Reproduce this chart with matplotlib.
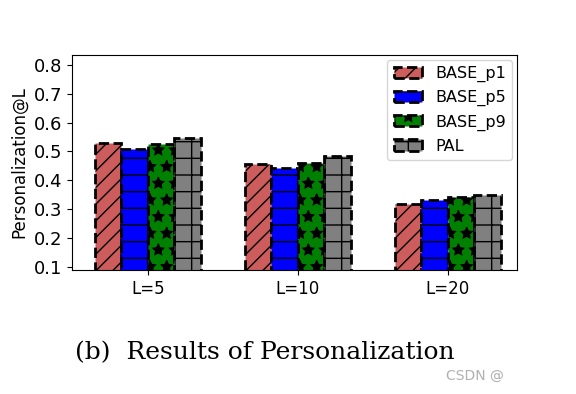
import matplotlib
matplotlib.use("Agg")
import matplotlib.pyplot as plt
import numpy as np

plt.rcParams['hatch.linewidth'] = 1.0

groups = ["L=5", "L=10", "L=20"]
series = ["BASE_p1", "BASE_p5", "BASE_p9", "PAL"]
base_p1 = [0.528, 0.456, 0.318]
base_p5 = [0.507, 0.443, 0.331]
base_p9 = [0.525, 0.460, 0.343]
pal = [0.548, 0.484, 0.348]
values = [base_p1, base_p5, base_p9, pal]
colors = ["#CD5C5C", "#0000FF", "#008000", "#808080"]
hatches = ["//", "-", "*", "+"]
yticks = [0.1, 0.2, 0.3, 0.4, 0.5, 0.6, 0.7, 0.8]

fig = plt.figure(figsize=(5.76, 3.94), dpi=100)
ax = fig.add_axes([0.125, 0.3147, 0.773, 0.5463])

x = np.arange(len(groups))
w = 0.177
for i, (name, vals) in enumerate(zip(series, values)):
    ax.bar(x + (i - 1.5) * w, vals, width=w, color=colors[i], hatch=hatches[i],
           edgecolor="black", linestyle="--", linewidth=2, label=name)

ax.set_ylim(0.0886, 0.835)
ax.set_xlim(-0.505, 2.464)
ax.set_yticks(yticks)
ax.set_yticklabels([f"{v:.1f}" for v in yticks], fontsize=13)
ax.set_xticks(x)
ax.set_xticklabels(groups, fontsize=12)
ax.set_ylabel("Personalization@L", fontsize=12)
ax.legend(loc="upper right", fontsize=11.5, handlelength=1.8, borderaxespad=0.3)

fig.text(0.13, 0.105, "(b)  Results of Personalization", fontsize=18,
         family="DejaVu Serif", ha="left", va="center")
fig.text(0.775, 0.045, "CSDN @", fontsize=10, color="#b0b0b0", ha="left", va="center")

fig.savefig("out.png", dpi=100)
